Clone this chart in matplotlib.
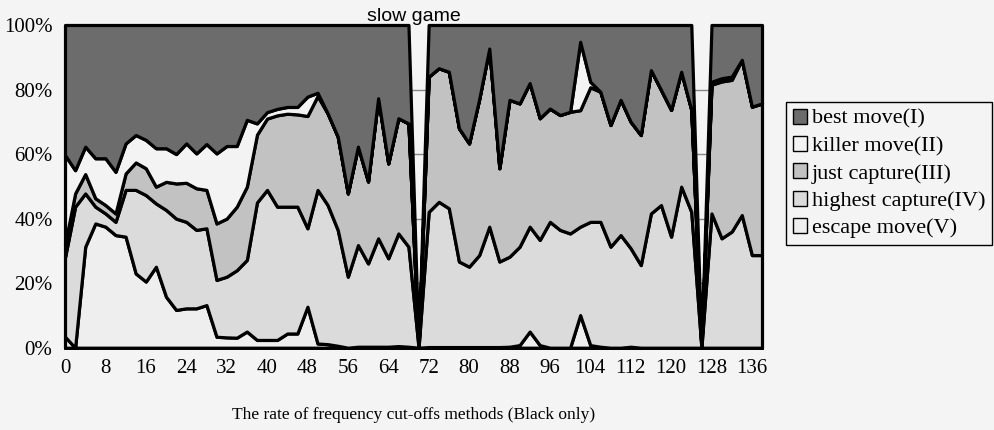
import numpy as np
import matplotlib.pyplot as plt
from matplotlib.patches import Patch
from matplotlib.ticker import MultipleLocator, FixedLocator

plt.rcParams['font.family'] = ['Liberation Serif', 'DejaVu Serif']

# move number (Black only), one category every 2 moves
moves = list(range(0, 140, 2))

# share of cut-offs per method (%), bottom layer first
escape = [3.4, 0, 31.3, 38.5, 37.5, 34.9, 34.4, 23.0, 20.5, 25.1,
          15.8, 11.7, 12.2, 12.2, 13.2, 3.4, 3.2, 3.1, 5.0, 2.4,
          2.4, 2.4, 4.4, 4.4, 12.7, 1.3, 1.1, 0.6, 0, 0.3,
          0.3, 0.3, 0.3, 0.5, 0.3, 0, 0.2, 0.2, 0.2, 0.2,
          0.2, 0.2, 0.2, 0.2, 0.3, 0.8, 5.0, 0.8, 0, 0,
          0, 10.1, 0.8, 0.3, 0, 0, 0.3, 0, 0, 0,
          0, 0, 0, 0, 0, 0, 0, 0, 0, 0]
highest = [24.6, 43.7, 16.5, 5.2, 4.1, 4.1, 14.5, 25.9, 26.8, 19.6,
           26.9, 28.3, 26.8, 24.3, 23.8, 17.6, 18.8, 20.9, 22.2, 42.6,
           46.5, 41.3, 39.3, 39.3, 24.3, 47.6, 43.1, 35.9, 22.0, 31.5,
           25.8, 33.6, 27.4, 34.9, 31.0, 0, 41.9, 45.0, 43.0, 26.5,
           24.9, 28.5, 37.3, 26.5, 27.9, 30.5, 32.5, 32.6, 39.0, 36.5,
           35.4, 27.4, 38.2, 38.7, 31.3, 34.9, 30.5, 25.6, 41.6, 44.2,
           34.4, 49.9, 42.1, 0, 41.6, 33.9, 36.0, 41.1, 28.7, 28.7]
just = [4.0, 4.1, 6.0, 2.6, 2.6, 2.6, 5.1, 8.5, 8.3, 5.2,
        8.7, 10.9, 12.1, 12.9, 11.9, 17.5, 18.0, 19.7, 22.7, 21.0,
        22.1, 28.3, 28.8, 28.6, 34.8, 29.1, 28.4, 28.9, 25.8, 30.5,
        25.4, 43.4, 29.4, 35.7, 38.2, 0, 41.9, 41.4, 42.3, 41.3,
        38.2, 48.3, 55.2, 28.9, 48.6, 44.4, 44.5, 37.7, 35.1, 35.6,
        37.7, 36.1, 41.7, 40.3, 37.7, 41.9, 39.2, 40.3, 44.4, 35.7,
        39.3, 35.6, 31.6, 0, 39.9, 48.6, 47.0, 48.1, 46.0, 47.0]
killer = [27.7, 7.2, 8.5, 12.4, 14.5, 12.9, 9.3, 8.5, 8.8, 11.9,
          10.4, 9.1, 12.2, 10.8, 14.2, 21.7, 22.5, 18.8, 20.7, 3.5,
          2.0, 2.0, 2.1, 2.3, 6.0, 1.0, 0, 0, 0, 0,
          0, 0, 0, 0, 0, 0, 0, 0, 0, 0,
          0, 0, 0, 0, 0, 0, 0, 0, 0, 0,
          0, 21.2, 1.7, 0, 0, 0, 0, 0, 0, 0,
          0, 0, 0, 0, 0.9, 1.0, 1.0, 0, 0, 0]
best = [40.3, 45.0, 37.7, 41.3, 41.3, 45.5, 36.7, 34.1, 35.6, 38.2,
        38.2, 40.0, 36.7, 39.8, 36.9, 39.8, 37.5, 37.5, 29.4, 30.5,
        27.0, 26.0, 25.4, 25.4, 22.2, 21.0, 27.4, 34.6, 52.2, 37.7,
        48.5, 22.7, 42.9, 28.9, 30.5, 0, 16.0, 13.4, 14.5, 32.0,
        36.7, 23.0, 7.3, 44.4, 23.2, 24.3, 18.0, 28.9, 25.9, 27.9,
        26.9, 5.2, 17.6, 20.7, 31.0, 23.2, 30.0, 34.1, 14.0, 20.1,
        26.3, 14.5, 26.3, 0, 17.6, 16.5, 16.0, 10.8, 25.3, 24.3]

labels = ['escape move(V)', 'highest capture(IV)', 'just capture(III)',
          'killer move(II)', 'best move(I)']
colors = ['#eeeeee', '#dbdbdb', '#c2c2c2', '#f3f3f3', '#6c6c6c']

layers = np.array([escape, highest, just, killer, best], dtype=float)
total = layers.sum(axis=0)
share = np.divide(layers, total, out=np.zeros_like(layers), where=total > 0) * 100

bg = '#f4f4f4'
fig = plt.figure(figsize=(9.94, 4.30), dpi=100, facecolor=bg)
ax = fig.add_axes([0.0654, 0.1914, 0.7012, 0.7505], facecolor=bg)

for yv in [20, 40, 60, 80]:
    ax.axhline(yv, color='#888888', lw=1, zorder=0)

polys = ax.stackplot(moves, share, colors=colors, edgecolor='black',
                     linewidth=2.3, zorder=2)
for p in polys:
    p.set_clip_on(False)

ax.set_xlim(0, 138)
ax.set_ylim(0, 100)

ax.xaxis.set_major_locator(FixedLocator(list(range(0, 137, 8))))
ax.xaxis.set_minor_locator(MultipleLocator(2))
ax.tick_params(axis='x', which='both', direction='in', length=4, width=1.2,
               labelsize=15, pad=8, color='black')
ax.tick_params(axis='y', length=0, labelsize=15, pad=9)
ax.set_yticks([0, 20, 40, 60, 80, 100])
ax.set_yticklabels(['0%', '20%', '40%', '60%', '80%', '100%'])

for s in ['top', 'right', 'left']:
    ax.spines[s].set_visible(False)
ax.spines['bottom'].set_linewidth(2)
ax.spines['bottom'].set_zorder(3)

ax.set_title('slow game', fontsize=14, family=['Liberation Sans'], pad=2)
ax.set_xlabel('The rate of frequency cut-offs methods (Black only)',
              fontsize=12.5, labelpad=21)

handles = [Patch(facecolor=colors[i], edgecolor='black', lw=1) for i in range(4, -1, -1)]
leg = fig.legend(handles, labels[::-1], loc='upper right',
                 bbox_to_anchor=(992 / 994, 1 - 102 / 430),
                 fontsize=16, frameon=True, fancybox=False,
                 edgecolor='black', facecolor=bg, framealpha=1,
                 handlelength=0.65, handleheight=0.65, handletextpad=0.2,
                 labelspacing=0.32, borderpad=0.3, borderaxespad=0)
leg.get_frame().set_linewidth(1)

fig.savefig('out.png', dpi=100, facecolor=bg)
